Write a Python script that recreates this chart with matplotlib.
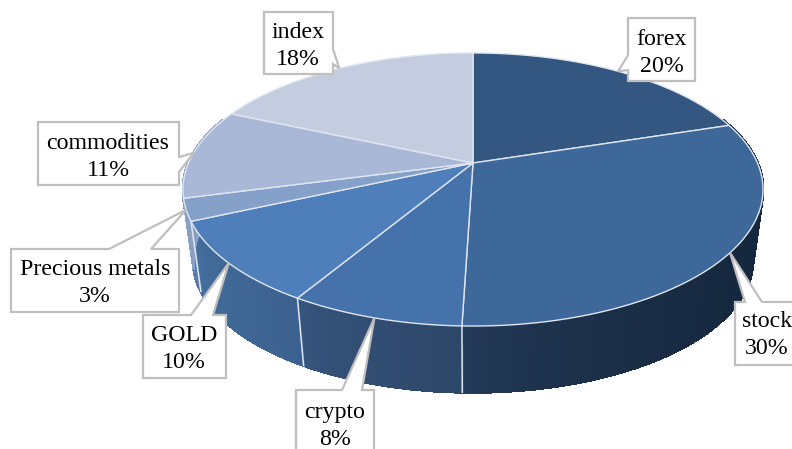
"""3D style pie of portfolio shares, drawn with a projected circle in pixel coordinates."""

import matplotlib

matplotlib.use("Agg")
import matplotlib.pyplot as plt
import numpy as np
from matplotlib.collections import PolyCollection
from matplotlib.colors import to_rgb
from matplotlib.patches import Polygon

# clockwise from 12 o'clock
CATEGORIES = ["forex", "stock", "crypto", "GOLD", "Precious metals", "commodities", "index"]
SHARES = [20.1, 30.4, 8.1, 9.7, 2.6, 10.7, 18.4]

TOP_COLORS = ["#345782", "#3e689a", "#4572ab", "#4e7fba", "#85a0c9", "#a9b8d7", "#c4cde0"]
WALL_LEFT = ["#1a2c42", "#263d5c", "#37567f", "#446f9f", "#5d7eaa", "#8a9fc4", "#8a9fc4"]
WALL_RIGHT = ["#16283f", "#15273d", "#2d4769", "#3c618f", "#567aa8", "#8a9fc4", "#8a9fc4"]

# label box (left, top, right, bottom) and the two points where the pointer leaves it
BOXES = [
    (628, 18, 695, 81),
    (735, 302, 800, 365),
    (296, 390, 374, 455),
    (143, 315, 226, 378),
    (11, 249, 179, 312),
    (38, 122, 179, 185),
    (264, 12, 333, 74),
]
POINTER_BASES = [
    ((628, 55), (628, 70)),
    ((745, 302), (762, 302)),
    ((342, 390), (362, 390)),
    ((191, 315), (213, 315)),
    ((109, 249), (151, 249)),
    ((179, 157), (179, 172)),
    ((333, 49), (333, 64)),
]
TEXT_CENTERS = [
    (662, 53),
    (767, 335),
    (335, 426),
    (184, 349),
    (95, 283),
    (108, 157),
    (298, 46),
]

# projection of the unit circle onto the page
CX, CY = 473, 163
PERSP = 0.194
FY = 131.4
FX = 284.5
WALL_SCALE = 0.965
WALL_CY = 235

EDGE = "#dfe6f0"
BOX_EDGE = "#bfbfbf"


def rim(theta, scale=1.0, cy=CY):
    u, v = np.sin(theta), np.cos(theta)
    w = 1 + PERSP * v
    return np.column_stack([CX + scale * FX * u / w, cy - scale * FY * v / w])


def lerp(c1, c2, t):
    a, b = np.array(to_rgb(c1)), np.array(to_rgb(c2))
    return a + (b - a) * t


def draw_walls(ax, starts, ends):
    quads, colors = [], []
    for i in range(len(SHARES)):
        th = np.linspace(starts[i], ends[i], 90)
        th = th[np.cos(th) < 0.35]
        if len(th) < 2:
            continue
        top = rim(th)
        bottom = rim(th, WALL_SCALE, WALL_CY)
        xmin, xmax = top[:, 0].min(), top[:, 0].max()
        for j in range(len(th) - 1):
            quads.append([top[j], top[j + 1], bottom[j + 1], bottom[j]])
            t = (top[j, 0] - xmin) / max(xmax - xmin, 1)
            colors.append(lerp(WALL_LEFT[i], WALL_RIGHT[i], t**0.6))
    ax.add_collection(
        PolyCollection(quads, facecolors=colors, edgecolors=colors, linewidths=1.4,
                       antialiased=False, zorder=1)
    )
    # white seams between the front walls
    for i in range(1, 4):
        p = np.vstack([rim(np.array([ends[i]])), rim(np.array([ends[i]]), WALL_SCALE, WALL_CY)])
        ax.plot(p[:, 0], p[:, 1], color=EDGE, lw=1.1, zorder=2)


def draw_top(ax, starts, ends):
    for i in range(len(SHARES)):
        th = np.linspace(starts[i], ends[i], 120)
        pts = np.vstack([[CX, CY], rim(th)])
        ax.add_patch(
            Polygon(pts, closed=True, facecolor=TOP_COLORS[i], edgecolor=EDGE, lw=1.0,
                    joinstyle="round", zorder=3)
        )


def draw_labels(ax, starts, ends):
    for i, name in enumerate(CATEGORIES):
        left, top, right, bottom = BOXES[i]
        tip = rim(np.array([(starts[i] + ends[i]) / 2]))[0]
        b1, b2 = POINTER_BASES[i]
        # walk the box clockwise and break into the side the pointer leaves from
        if b1[0] == b2[0] and b1[0] == left:
            pts = [(left, top), (right, top), (right, bottom), (left, bottom), b2, tip, b1]
        elif b1[0] == b2[0]:
            pts = [(left, top), (right, top), b1, tip, b2, (right, bottom), (left, bottom)]
        else:
            pts = [(left, top), b1, tip, b2, (right, top), (right, bottom), (left, bottom)]
        ax.add_patch(
            Polygon(pts, closed=True, facecolor="white", edgecolor=BOX_EDGE, lw=1.6,
                    joinstyle="miter", zorder=5)
        )
        x, y = TEXT_CENTERS[i]
        ax.text(x, y, f"{name}\n{SHARES[i]:.0f}%", ha="center", va="center", fontsize=17.2,
                family="Liberation Serif", linespacing=1.35, color="black", zorder=6)


def main():
    fig = plt.figure(figsize=(7.92, 4.49), dpi=100)
    ax = fig.add_axes([0, 0, 1, 1])
    ax.set_xlim(0, 792)
    ax.set_ylim(449, 0)
    ax.axis("off")

    cum = np.cumsum([0] + SHARES) / sum(SHARES) * 2 * np.pi
    starts, ends = cum[:-1], cum[1:]

    draw_walls(ax, starts, ends)
    draw_top(ax, starts, ends)
    draw_labels(ax, starts, ends)

    fig.savefig("out.png", dpi=100)


if __name__ == "__main__":
    main()
